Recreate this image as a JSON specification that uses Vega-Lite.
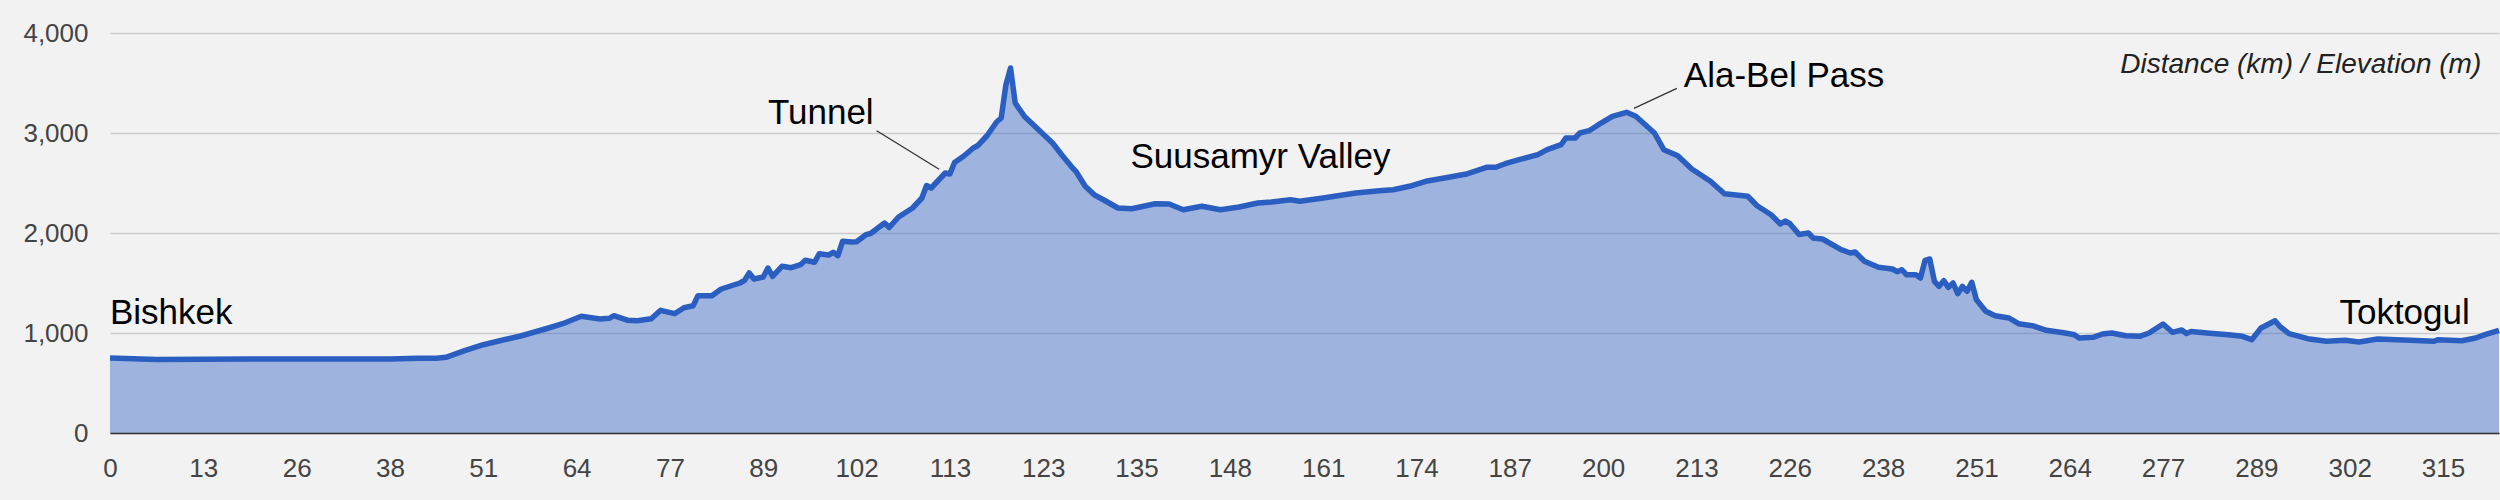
{
  "$schema": "https://vega.github.io/schema/vega-lite/v6.json",
  "width": 2389,
  "height": 400,
  "autosize": {"type": "none"},
  "padding": {"left": 110, "top": 33, "right": 1, "bottom": 67},
  "background": "#f2f2f2",
  "config": {
    "view": {"stroke": null},
    "font": "Liberation Sans",
    "axis": {"labelFont": "Liberation Sans", "labelFontSize": 26, "labelColor": "#444", "title": null}
  },
  "datasets": {
    "profile": [
      {"s": 0, "elev": 750}, {"s": 10, "elev": 735}, {"s": 20, "elev": 738}, {"s": 30, "elev": 740},
      {"s": 40, "elev": 740}, {"s": 50, "elev": 740}, {"s": 60, "elev": 740}, {"s": 66, "elev": 747},
      {"s": 70, "elev": 747}, {"s": 72, "elev": 757}, {"s": 76, "elev": 823}, {"s": 80, "elev": 883},
      {"s": 84, "elev": 927}, {"s": 88, "elev": 970}, {"s": 94, "elev": 1050}, {"s": 97, "elev": 1093},
      {"s": 101, "elev": 1167}, {"s": 105, "elev": 1140}, {"s": 107, "elev": 1147}, {"s": 108, "elev": 1173},
      {"s": 111, "elev": 1127}, {"s": 113, "elev": 1123}, {"s": 116, "elev": 1143}, {"s": 118, "elev": 1227},
      {"s": 121, "elev": 1193}, {"s": 123, "elev": 1253}, {"s": 125, "elev": 1273}, {"s": 126, "elev": 1373},
      {"s": 129, "elev": 1373}, {"s": 131, "elev": 1440}, {"s": 135, "elev": 1500}, {"s": 136, "elev": 1527},
      {"s": 137, "elev": 1600}, {"s": 138, "elev": 1540}, {"s": 140, "elev": 1560}, {"s": 141, "elev": 1650},
      {"s": 142, "elev": 1567}, {"s": 144, "elev": 1667}, {"s": 146, "elev": 1653}, {"s": 148, "elev": 1683},
      {"s": 149, "elev": 1727}, {"s": 151, "elev": 1707}, {"s": 152, "elev": 1793}, {"s": 154, "elev": 1780},
      {"s": 155, "elev": 1807}, {"s": 156, "elev": 1773}, {"s": 157, "elev": 1917}, {"s": 159, "elev": 1910},
      {"s": 160, "elev": 1913}, {"s": 162, "elev": 1983}, {"s": 163, "elev": 1995}, {"s": 166, "elev": 2100},
      {"s": 167, "elev": 2055}, {"s": 169, "elev": 2160}, {"s": 172, "elev": 2250}, {"s": 174, "elev": 2350},
      {"s": 175, "elev": 2475}, {"s": 176, "elev": 2450}, {"s": 179, "elev": 2600}, {"s": 180, "elev": 2590},
      {"s": 181, "elev": 2705}, {"s": 183, "elev": 2770}, {"s": 185, "elev": 2850}, {"s": 186, "elev": 2875},
      {"s": 188, "elev": 2975}, {"s": 190, "elev": 3110}, {"s": 191, "elev": 3150}, {"s": 192, "elev": 3480},
      {"s": 193, "elev": 3650}, {"s": 194, "elev": 3300}, {"s": 196, "elev": 3165}, {"s": 199, "elev": 3033},
      {"s": 202, "elev": 2900}, {"s": 204, "elev": 2780}, {"s": 206, "elev": 2667}, {"s": 207, "elev": 2617},
      {"s": 209, "elev": 2467}, {"s": 211, "elev": 2380}, {"s": 213, "elev": 2330}, {"s": 216, "elev": 2250},
      {"s": 219, "elev": 2243}, {"s": 224, "elev": 2293}, {"s": 227, "elev": 2290}, {"s": 230, "elev": 2233},
      {"s": 234, "elev": 2267}, {"s": 238, "elev": 2233}, {"s": 242, "elev": 2260}, {"s": 246, "elev": 2300},
      {"s": 249, "elev": 2310}, {"s": 253, "elev": 2333}, {"s": 255, "elev": 2317}, {"s": 260, "elev": 2350},
      {"s": 267, "elev": 2400}, {"s": 272, "elev": 2423}, {"s": 275, "elev": 2433}, {"s": 279, "elev": 2473},
      {"s": 282, "elev": 2517}, {"s": 286, "elev": 2550}, {"s": 291, "elev": 2593}, {"s": 295, "elev": 2657},
      {"s": 297, "elev": 2657}, {"s": 299, "elev": 2693}, {"s": 302, "elev": 2733}, {"s": 306, "elev": 2783},
      {"s": 308, "elev": 2833}, {"s": 311, "elev": 2883}, {"s": 312, "elev": 2950}, {"s": 314, "elev": 2950},
      {"s": 315, "elev": 3000}, {"s": 317, "elev": 3023}, {"s": 319, "elev": 3083}, {"s": 322, "elev": 3167},
      {"s": 325, "elev": 3207}, {"s": 327, "elev": 3167}, {"s": 331, "elev": 3000}, {"s": 333, "elev": 2833},
      {"s": 336, "elev": 2773}, {"s": 339, "elev": 2640}, {"s": 343, "elev": 2517}, {"s": 346, "elev": 2393},
      {"s": 351, "elev": 2367}, {"s": 353, "elev": 2273}, {"s": 356, "elev": 2183}, {"s": 358, "elev": 2090},
      {"s": 359, "elev": 2120}, {"s": 360, "elev": 2095}, {"s": 362, "elev": 1985}, {"s": 364, "elev": 2000},
      {"s": 365, "elev": 1950}, {"s": 367, "elev": 1940}, {"s": 371, "elev": 1833}, {"s": 373, "elev": 1800},
      {"s": 374, "elev": 1810}, {"s": 376, "elev": 1717}, {"s": 379, "elev": 1657}, {"s": 382, "elev": 1640},
      {"s": 383, "elev": 1613}, {"s": 384, "elev": 1633}, {"s": 385, "elev": 1583}, {"s": 387, "elev": 1583},
      {"s": 388, "elev": 1550}, {"s": 389, "elev": 1727}, {"s": 390, "elev": 1740}, {"s": 391, "elev": 1517},
      {"s": 392, "elev": 1467}, {"s": 393, "elev": 1523}, {"s": 394, "elev": 1457}, {"s": 395, "elev": 1500},
      {"s": 396, "elev": 1393}, {"s": 397, "elev": 1467}, {"s": 398, "elev": 1417}, {"s": 399, "elev": 1507},
      {"s": 400, "elev": 1333}, {"s": 402, "elev": 1217}, {"s": 404, "elev": 1173}, {"s": 407, "elev": 1150},
      {"s": 409, "elev": 1093}, {"s": 412, "elev": 1073}, {"s": 415, "elev": 1027}, {"s": 419, "elev": 1000},
      {"s": 421, "elev": 983}, {"s": 422, "elev": 950}, {"s": 425, "elev": 957}, {"s": 427, "elev": 990},
      {"s": 429, "elev": 1000}, {"s": 432, "elev": 973}, {"s": 435, "elev": 967}, {"s": 437, "elev": 1000},
      {"s": 440, "elev": 1090}, {"s": 442, "elev": 1007}, {"s": 444, "elev": 1030}, {"s": 445, "elev": 995},
      {"s": 446, "elev": 1015}, {"s": 450, "elev": 997}, {"s": 454, "elev": 983}, {"s": 457, "elev": 967},
      {"s": 459, "elev": 933}, {"s": 461, "elev": 1050}, {"s": 464, "elev": 1123}, {"s": 465, "elev": 1067},
      {"s": 467, "elev": 993}, {"s": 471, "elev": 943}, {"s": 475, "elev": 917}, {"s": 479, "elev": 927},
      {"s": 482, "elev": 910}, {"s": 486, "elev": 940}, {"s": 490, "elev": 933}, {"s": 493, "elev": 927},
      {"s": 498, "elev": 917}, {"s": 499, "elev": 933}, {"s": 504, "elev": 923}, {"s": 507, "elev": 950},
      {"s": 509, "elev": 983}, {"s": 512, "elev": 1027}
    ],
    "places": [
      {"s": 0, "elev": 1087, "label": "Bishkek"},
      {"s": 141, "elev": 3090, "label": "Tunnel"},
      {"s": 218.7, "elev": 2647, "label": "Suusamyr Valley"},
      {"s": 337.3, "elev": 3463, "label": "Ala-Bel Pass"},
      {"s": 477.8, "elev": 1090, "label": "Toktogul"}
    ],
    "leaders": [
      {"s": 164.3, "elev": 3023, "s2": 177.7, "elev2": 2637},
      {"s": 335.8, "elev": 3447, "s2": 326.6, "elev2": 3247}
    ],
    "note": [
      {"s": 508.2, "elev": 3597, "label": "Distance (km) / Elevation (m)"}
    ]
  },
  "encoding": {
    "x": {
      "field": "s",
      "type": "quantitative",
      "scale": {"domain": [0, 512], "nice": false, "zero": false},
      "axis": {
        "values": [0, 20, 40, 60, 80, 100, 120, 140, 160, 180, 200, 220, 240, 260, 280, 300, 320, 340, 360, 380, 400, 420, 440, 460, 480, 500],
        "labelExpr": "['0','13','26','38','51','64','77','89','102','113','123','135','148','161','174','187','200','213','226','238','251','264','277','289','302','315'][round(datum.value / 20)]",
        "grid": false,
        "ticks": false,
        "domain": true,
        "domainColor": "#333",
        "domainWidth": 1.5,
        "labelPadding": 22,
        "labelFlush": false,
        "labelOverlap": false,
        "zindex": 1
      }
    },
    "y": {
      "field": "elev",
      "type": "quantitative",
      "scale": {"domain": [0, 4000], "nice": false},
      "axis": {
        "values": [0, 1000, 2000, 3000, 4000],
        "format": ",.0f",
        "grid": true,
        "gridColor": "#cccccc",
        "gridWidth": 1.3,
        "domain": false,
        "ticks": false,
        "labelPadding": 22
      }
    }
  },
  "layer": [
    {
      "data": {"name": "profile"},
      "mark": {"type": "area", "color": "#2b5ec1", "fillOpacity": 0.42}
    },
    {
      "data": {"name": "profile"},
      "mark": {"type": "line", "color": "#2b5ec1", "strokeWidth": 5.5, "strokeJoin": "round"}
    },
    {
      "data": {"name": "leaders"},
      "mark": {"type": "rule", "color": "#333", "strokeWidth": 1.3},
      "encoding": {
        "x2": {"field": "s2"},
        "y2": {"field": "elev2"}
      }
    },
    {
      "data": {"name": "places"},
      "mark": {"type": "text", "align": "left", "baseline": "alphabetic", "fontSize": 35, "color": "#000"},
      "encoding": {"text": {"field": "label"}}
    },
    {
      "data": {"name": "note"},
      "mark": {"type": "text", "align": "right", "baseline": "alphabetic", "fontSize": 28, "fontStyle": "italic", "color": "#222"},
      "encoding": {"text": {"field": "label"}}
    }
  ]
}
